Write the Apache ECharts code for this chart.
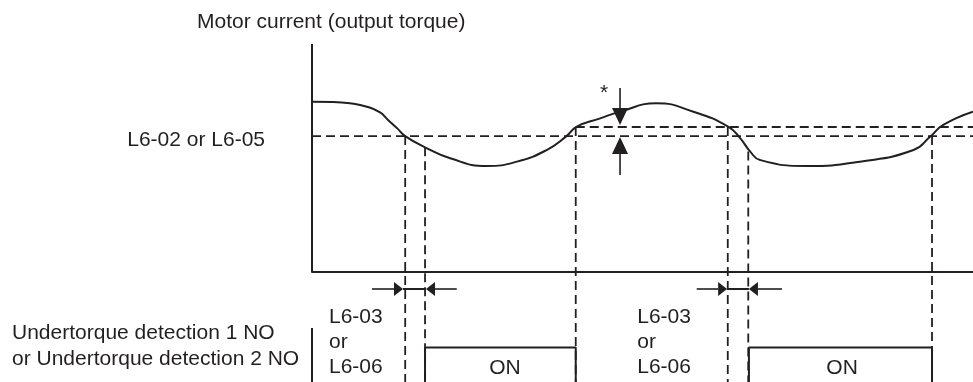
<!DOCTYPE html>
<html><head><meta charset="utf-8">
<script src="https://cdn.jsdelivr.net/npm/echarts@6/dist/echarts.min.js"></script>
<style>html,body{margin:0;padding:0;background:#fff}#c{width:973px;height:382px}</style>
</head><body><div id="c"></div>
<script>
// ---- data (time units 0..100, current units; signal drawn below zero) ----
const curveX = [0, 3.2, 5.75, 8.3, 10.3, 11.5, 12.9, 14.1, 17.1, 20.9, 26.4, 31.0, 35.5, 38.5, 40.0, 43.6, 46.6, 52.1, 57.7, 63.0, 64.8, 66.3, 67.8, 74.8, 82.9, 91.0, 93.5, 95.5, 100];
const curveY = [74.7, 74.6, 74.0, 72.5, 70.0, 66.7, 63.0, 59.6, 54.7, 49.9, 46.5, 48.4, 53.5, 59.6, 63.7, 67.4, 70.3, 74.0, 70.3, 63.7, 58.6, 52.8, 49.1, 46.5, 48.4, 53.5, 59.3, 64.5, 70.3];
const thresholdLow = 59.6;      // L6-02 or L6-05
const thresholdHigh = 63.6;     // level + hysteresis
const thresholdHighStart = 39.9;
const markerX = [14.1, 17.1, 39.9, 62.9, 66.0, 93.8];
const markerTop = [59.6, 54.7, 63.6, 63.6, 52.8, 59.6];
const signalOff = -60;
const signalOn = -33.1;
const pulseStart = [17.1, 66.1];
const pulseEnd = [39.9, 93.8];
const axisTop = 100;
const lowerAxisTop = -24.6;
const delayArrowY = -7.46;
const delayArrowFrom = [9.08, 21.9, 58.2, 71.1];
const delayArrowTo = [13.77, 17.25, 62.8, 66.1];
const delayLinkFrom = [13.77, 62.8];
const delayLinkTo = [17.25, 66.1];
const hystArrowX = 46.6;
const hystArrowFrom = [80.7, 42.5];
const hystArrowTo = [64.5, 59.2];
const delayLabelX = [2.57, 49.2];
const delayLabelY = -30.9;
const delayLabelText = 'L6-03\nor\nL6-06';
const onLabelX = [29.2, 80.2];
const onLabelY = -42.3;
const onLabelText = 'ON';
const starX = 44.2, starY = 78.4, starText = '*';
const titleText = 'Motor current (output torque)';
const levelText = 'L6-02 or L6-05';
const outputText = 'Undertorque detection 1 NO\nor Undertorque detection 2 NO';
const yMin = -48.25, yMax = 100;

// ---- build ----
const ink = '#231f20';
const FONT = '21px "Liberation Sans", Arial, Helvetica, sans-serif';
const curveData = curveX.map((x, i) => [x, curveY[i]]);

const dashedSegs = [];
dashedSegs.push([0, thresholdLow, 100, thresholdLow]);
dashedSegs.push([thresholdHighStart, thresholdHigh, 100, thresholdHigh]);
markerX.forEach((x, i) => dashedSegs.push([x, markerTop[i], x, signalOff]));

const solidSegs = [];
solidSegs.push([0, axisTop, 0, 0]);
solidSegs.push([0, lowerAxisTop, 0, signalOff]);
delayLinkFrom.forEach((x, i) => solidSegs.push([x, delayArrowY, delayLinkTo[i], delayArrowY]));

const signalData = [[0, signalOff]];
pulseStart.forEach((s, i) => {
  signalData.push([s, signalOff], [s, signalOn], [pulseEnd[i], signalOn], [pulseEnd[i], signalOff]);
});
signalData.push([100, signalOff]);

const arrows = [];
delayArrowFrom.forEach((x, i) => arrows.push([x, delayArrowY, delayArrowTo[i], delayArrowY, 0]));
hystArrowFrom.forEach((y, i) => arrows.push([hystArrowX, y, hystArrowX, hystArrowTo[i], 1]));

const texts = [];
delayLabelX.forEach(x => texts.push([x, delayLabelY, delayLabelText, 'left']));
onLabelX.forEach(x => texts.push([x, onLabelY, onLabelText, 'center']));
texts.push([starX, starY, starText, 'center']);

function segRenderer(dashed) {
  return function (params, api) {
    const a = api.coord([api.value(0), api.value(1)]);
    const b = api.coord([api.value(2), api.value(3)]);
    return {
      type: 'line',
      shape: { x1: a[0], y1: a[1], x2: b[0], y2: b[1] },
      style: { stroke: ink, lineWidth: dashed ? 1.8 : 2, lineDash: dashed ? [9, 5] : null, fill: null }
    };
  };
}

function arrowRenderer(params, api) {
  const a = api.coord([api.value(0), api.value(1)]);
  const b = api.coord([api.value(2), api.value(3)]);
  const big = api.value(4) === 1;
  const L = big ? 17 : 9, W = big ? 8 : 7;
  const dx = b[0] - a[0], dy = b[1] - a[1];
  const len = Math.sqrt(dx * dx + dy * dy) || 1;
  const ux = dx / len, uy = dy / len;
  const bx = b[0] - ux * L, by = b[1] - uy * L;
  const px = -uy, py = ux;
  return {
    type: 'group',
    children: [
      { type: 'line', shape: { x1: a[0], y1: a[1], x2: bx, y2: by }, style: { stroke: ink, lineWidth: 1.6 } },
      { type: 'polygon', shape: { points: [[b[0], b[1]], [bx + px * W, by + py * W], [bx - px * W, by - py * W]] }, style: { fill: ink } }
    ]
  };
}

function textRenderer(params, api) {
  const p = api.coord([api.value(0), api.value(1)]);
  const d = texts[params.dataIndex];
  return {
    type: 'text', x: p[0], y: p[1],
    style: { text: d[2], font: FONT, fill: ink, align: d[3], textAlign: d[3], verticalAlign: 'middle', textVerticalAlign: 'middle', lineHeight: 25 }
  };
}

const chart = echarts.init(document.getElementById('c'), null, { renderer: 'canvas' });
chart.setOption({
  animation: false,
  backgroundColor: '#ffffff',
  grid: { left: 312, right: 0, top: 44, bottom: 0, outerBoundsMode: 'none', containLabel: false },
  xAxis: {
    type: 'value', min: 0, max: 100,
    axisLine: { show: true, onZero: true, lineStyle: { color: ink, width: 2 } },
    axisTick: { show: false }, axisLabel: { show: false }, splitLine: { show: false }
  },
  yAxis: {
    type: 'value', min: yMin, max: yMax,
    axisLine: { show: false }, axisTick: { show: false }, axisLabel: { show: false }, splitLine: { show: false }
  },
  graphic: [
    { type: 'text', left: 197, top: 12, style: { text: titleText, font: FONT, fill: ink } },
    { type: 'text', right: 973 - 265, top: 130, style: { text: levelText, font: FONT, fill: ink } },
    { type: 'text', left: 12, top: 320, style: { text: outputText, font: FONT, fill: ink, lineHeight: 26 } }
  ],
  series: [
    { type: 'custom', renderItem: segRenderer(true), data: dashedSegs, encode: { x: [0, 2], y: [1, 3] }, silent: true, z: 1 },
    { type: 'custom', renderItem: segRenderer(false), data: solidSegs, encode: { x: [0, 2], y: [1, 3] }, silent: true, z: 2 },
    { type: 'line', data: curveData, smooth: 0.5, symbol: 'none', lineStyle: { color: ink, width: 2 }, silent: true, z: 3 },
    { type: 'line', data: signalData, symbol: 'none', lineStyle: { color: ink, width: 2 }, silent: true, z: 3 },
    { type: 'custom', renderItem: arrowRenderer, data: arrows, encode: { x: [0, 2], y: [1, 3] }, silent: true, z: 4 },
    { type: 'custom', renderItem: textRenderer, data: texts.map(t => [t[0], t[1]]), encode: { x: 0, y: 1 }, silent: true, z: 5 }
  ]
});
</script>
</body></html>
